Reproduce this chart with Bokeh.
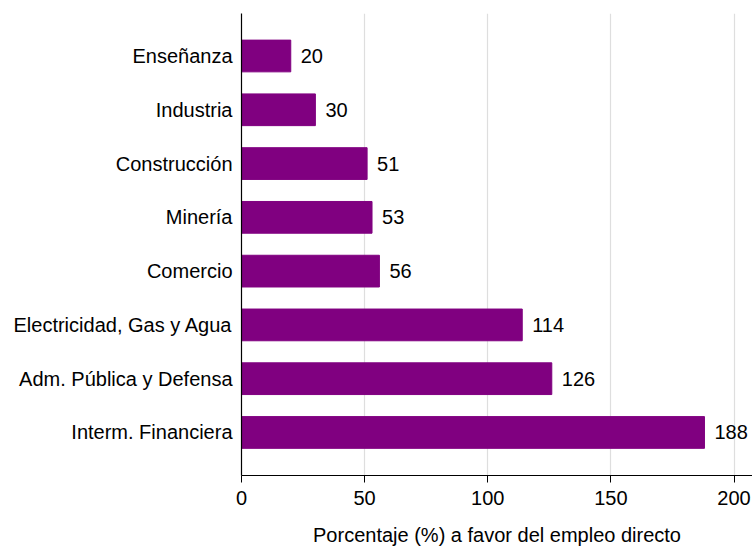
from bokeh.plotting import figure
from bokeh.models import Range1d, ColumnDataSource, FixedTicker, LabelSet
from bokeh.core.properties import value
from bokeh.embed import file_html
from bokeh.resources import INLINE

categories = ["Enseñanza", "Industria", "Construcción", "Minería", "Comercio",
              "Electricidad, Gas y Agua", "Adm. Pública y Defensa", "Interm. Financiera"]
values = [20, 30, 51, 53, 56, 114, 126, 188]
x_ticks = [0, 50, 100, 150, 200]
x_title = "Porcentaje (%) a favor del empleo directo"

n = len(categories)
ypos = [n - i for i in range(n)]
src = ColumnDataSource(dict(y=ypos, v=values, lab=[str(v) for v in values], cat=categories))

FONT = "Liberation Sans"
FS = "20px"

p = figure(width=752, height=548, output_backend="svg", toolbar_location=None,
           x_range=Range1d(0, 207.5), y_range=Range1d(0.2, 8.79),
           min_border_left=241, min_border_right=0, min_border_top=13, min_border_bottom=73)
p.outline_line_color = None
p.background_fill_color = "white"
p.border_fill_color = "white"

p.hbar(y="y", right="v", left=0, height=0.59, source=src,
       fill_color="#800080", line_color="#800080")

labels = LabelSet(x="v", y="y", text="lab", source=src, x_offset=10,
                  text_align="left", text_baseline="middle",
                  text_font=value(FONT), text_font_size=value(FS), text_color="black")
p.add_layout(labels)

p.yaxis.ticker = FixedTicker(ticks=ypos)
p.yaxis.major_label_overrides = {y: c for y, c in zip(ypos, categories)}
p.yaxis.major_tick_line_color = None
p.yaxis.major_tick_out = 0
p.yaxis.major_tick_in = 0
p.yaxis.minor_tick_line_color = None
p.yaxis.minor_tick_out = 0
p.yaxis.major_label_standoff = 9
p.yaxis.axis_line_color = "black"
p.yaxis.axis_line_width = 1.2

p.xaxis.ticker = FixedTicker(ticks=x_ticks)
p.xaxis.major_tick_out = 7
p.xaxis.major_tick_in = 0
p.xaxis.minor_tick_line_color = None
p.xaxis.minor_tick_out = 0
p.xaxis.major_label_standoff = 8
p.xaxis.axis_line_color = "black"
p.xaxis.axis_line_width = 1.2
p.xaxis.axis_label = x_title
p.xaxis.axis_label_standoff = 16
p.xaxis.axis_label_text_font_style = "normal"

for ax in (p.xaxis, p.yaxis):
    ax.major_label_text_font = FONT
    ax.major_label_text_font_size = FS
    ax.major_label_text_color = "black"
    ax.axis_label_text_font = FONT
    ax.axis_label_text_font_size = FS
    ax.axis_label_text_color = "black"

p.ygrid.grid_line_color = None
p.xgrid.ticker = FixedTicker(ticks=[50, 100, 150, 200])
p.xgrid.grid_line_color = "#dedede"
p.xgrid.grid_line_width = 1.2

open("out.html", "w").write(file_html(p, INLINE))
